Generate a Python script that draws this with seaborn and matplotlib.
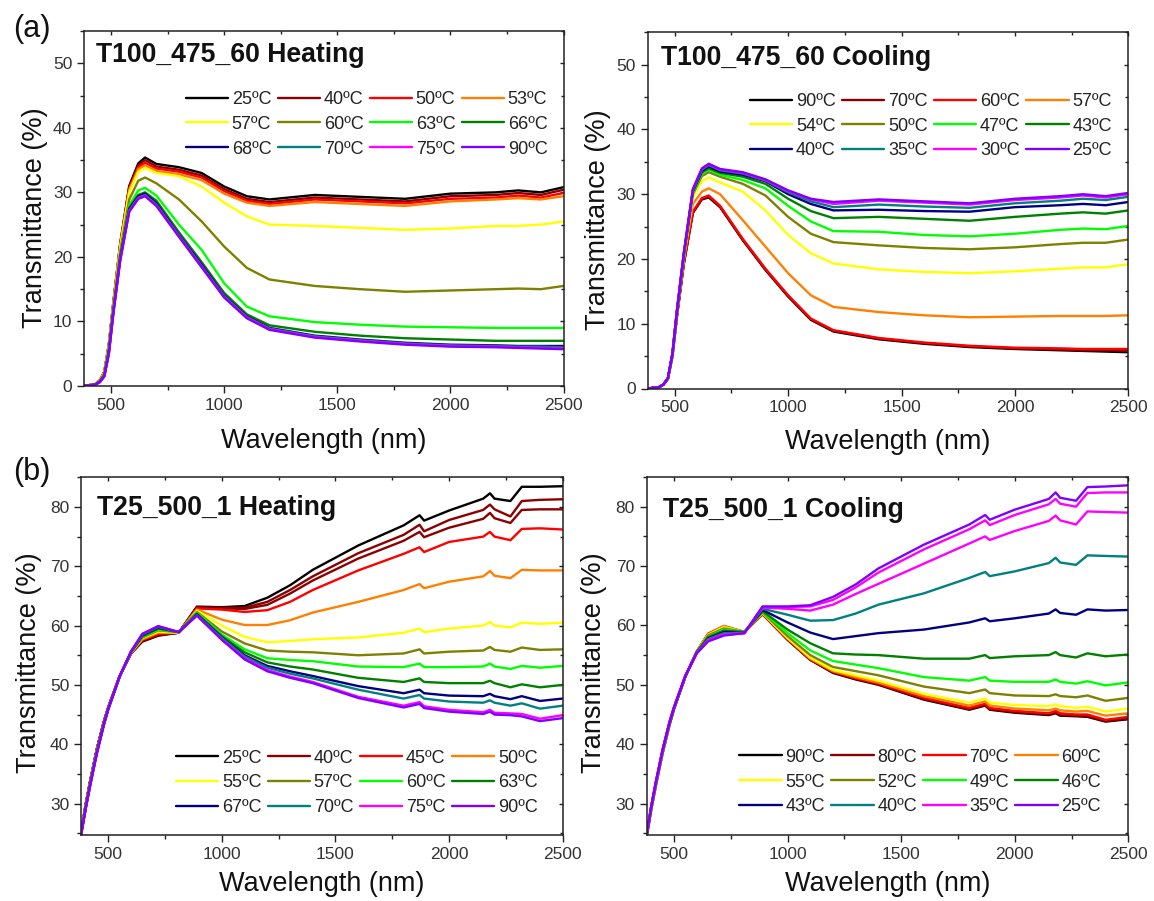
import matplotlib
matplotlib.use("Agg")
import matplotlib.pyplot as plt
from matplotlib.ticker import MultipleLocator
import seaborn as sns

# ---------------- data ----------------
WL_A = [380, 430, 450, 470, 490, 510, 540, 580, 620, 650, 700, 800, 900, 1000, 1100, 1200,
        1400, 1600, 1800, 2000, 2200, 2300, 2400, 2500]
WL_B = [380, 400, 420, 450, 480, 500, 550, 600, 650, 720, 810, 890, 1000, 1100, 1200, 1300,
        1400, 1600, 1800, 1870, 1890, 2000, 2150, 2180, 2200, 2270, 2320, 2400, 2500]

COLORS = ["#000000", "#8B0000", "#FF0000", "#FF8000", "#FFFF00", "#808000",
          "#00FF00", "#008000", "#000080", "#008080", "#FF00FF", "#8000FF"]

# (a) T100_475_60 heating
A_HEAT_LABELS = ["25ºC", "40ºC", "50ºC", "53ºC", "57ºC", "60ºC", "63ºC", "66ºC", "68ºC", "70ºC", "75ºC", "90ºC"]
a_h25 = [0.0, 0.3, 0.9, 2.2, 6.5, 13.0, 22.0, 31.0, 34.5, 35.4, 34.4, 33.9, 33.0, 30.9, 29.4, 28.9, 29.6, 29.3, 29.0, 29.8, 30.0, 30.3, 30.0, 30.8]
a_h40 = [0.0, 0.3, 0.9, 2.2, 6.5, 13.0, 22.0, 30.8, 34.2, 35.0, 34.0, 33.5, 32.6, 30.5, 29.0, 28.5, 29.2, 28.9, 28.6, 29.4, 29.6, 29.9, 29.6, 30.4]
a_h50 = [0.0, 0.3, 0.9, 2.2, 6.4, 12.9, 21.9, 30.6, 33.9, 34.6, 33.7, 33.2, 32.3, 30.2, 28.7, 28.2, 28.9, 28.6, 28.3, 29.0, 29.2, 29.5, 29.2, 29.9]
a_h53 = [0.0, 0.3, 0.9, 2.2, 6.4, 12.9, 21.8, 30.4, 33.6, 34.2, 33.3, 32.8, 31.9, 29.8, 28.4, 27.9, 28.5, 28.2, 27.9, 28.6, 28.9, 29.1, 28.9, 29.4]
a_h57 = [0.0, 0.3, 0.9, 2.1, 6.3, 12.7, 21.5, 30.0, 33.2, 33.8, 33.0, 32.5, 30.9, 28.4, 26.3, 25.0, 24.8, 24.5, 24.2, 24.4, 24.8, 24.8, 25.0, 25.5]
a_h60 = [0.0, 0.3, 0.8, 2.0, 6.0, 12.3, 20.8, 28.9, 31.8, 32.3, 31.4, 28.9, 25.5, 21.6, 18.3, 16.5, 15.5, 15.0, 14.6, 14.8, 15.0, 15.1, 15.0, 15.5]
a_h63 = [0.0, 0.2, 0.7, 1.8, 5.7, 12.0, 20.3, 28.0, 30.3, 30.7, 29.5, 25.0, 21.1, 15.9, 12.3, 10.8, 9.9, 9.5, 9.2, 9.1, 9.0, 9.0, 9.0, 9.0]
a_h66 = [0.0, 0.2, 0.7, 1.7, 5.5, 11.8, 20.0, 27.6, 29.6, 30.0, 28.7, 23.8, 19.2, 14.4, 11.1, 9.4, 8.4, 7.8, 7.4, 7.2, 7.0, 7.0, 7.0, 7.0]
a_h68 = [0.0, 0.2, 0.7, 1.6, 5.3, 11.6, 19.8, 27.4, 29.4, 29.8, 28.3, 23.4, 18.8, 14.0, 10.8, 9.0, 7.8, 7.2, 6.7, 6.4, 6.3, 6.2, 6.2, 6.2]
a_h70 = [0.0, 0.2, 0.6, 1.6, 5.2, 11.5, 19.6, 27.2, 29.2, 29.6, 28.1, 23.3, 18.6, 13.9, 10.7, 8.9, 7.7, 7.1, 6.6, 6.3, 6.2, 6.1, 6.1, 6.0]
a_h75 = [0.0, 0.2, 0.6, 1.5, 5.1, 11.4, 19.5, 27.1, 29.1, 29.5, 28.0, 23.2, 18.5, 13.8, 10.6, 8.8, 7.6, 7.0, 6.5, 6.2, 6.1, 6.0, 5.9, 5.8]
a_h90 = [0.0, 0.2, 0.6, 1.5, 5.0, 11.3, 19.4, 27.0, 29.0, 29.4, 27.9, 23.1, 18.4, 13.7, 10.5, 8.7, 7.5, 6.9, 6.4, 6.1, 6.0, 5.9, 5.8, 5.7]

# (a) T100_475_60 cooling
A_COOL_LABELS = ["90ºC", "70ºC", "60ºC", "57ºC", "54ºC", "50ºC", "47ºC", "43ºC", "40ºC", "35ºC", "30ºC", "25ºC"]
a_c90 = [0.0, 0.2, 0.6, 1.5, 5.0, 11.2, 19.2, 27.1, 29.2, 29.5, 28.0, 22.9, 18.3, 14.2, 10.6, 8.8, 7.6, 6.9, 6.4, 6.1, 5.9, 5.8, 5.7, 5.6]
a_c70 = [0.0, 0.2, 0.6, 1.5, 5.0, 11.2, 19.3, 27.2, 29.3, 29.6, 28.1, 23.0, 18.4, 14.3, 10.7, 8.9, 7.7, 7.0, 6.5, 6.2, 6.0, 5.9, 5.9, 5.8]
a_c60 = [0.0, 0.2, 0.6, 1.5, 5.0, 11.3, 19.4, 27.3, 29.4, 29.8, 28.2, 23.1, 18.5, 14.4, 10.8, 9.0, 7.8, 7.1, 6.6, 6.3, 6.2, 6.1, 6.1, 6.1]
a_c57 = [0.0, 0.2, 0.6, 1.5, 5.1, 11.5, 19.8, 28.5, 30.4, 30.9, 30.0, 26.0, 21.9, 17.8, 14.4, 12.6, 11.8, 11.3, 11.0, 11.1, 11.2, 11.2, 11.2, 11.3]
a_c54 = [0.0, 0.2, 0.6, 1.6, 5.2, 11.7, 20.2, 29.5, 32.0, 32.6, 31.8, 30.4, 27.5, 23.7, 20.9, 19.3, 18.4, 18.0, 17.8, 18.1, 18.5, 18.7, 18.7, 19.2]
a_c50 = [0.0, 0.2, 0.6, 1.6, 5.3, 11.8, 20.4, 30.0, 32.8, 33.4, 32.7, 31.6, 29.8, 26.5, 23.9, 22.6, 22.1, 21.7, 21.5, 21.8, 22.3, 22.5, 22.5, 23.0]
a_c47 = [0.0, 0.2, 0.6, 1.6, 5.3, 11.9, 20.5, 30.2, 33.1, 33.8, 33.0, 32.2, 30.9, 28.2, 25.8, 24.3, 24.2, 23.7, 23.5, 23.9, 24.5, 24.7, 24.6, 25.1]
a_c43 = [0.0, 0.2, 0.6, 1.6, 5.4, 12.0, 20.6, 30.4, 33.4, 34.0, 33.3, 32.7, 31.6, 29.3, 27.4, 26.3, 26.5, 26.2, 25.9, 26.5, 27.0, 27.2, 27.0, 27.5]
a_c40 = [0.0, 0.2, 0.6, 1.6, 5.4, 12.0, 20.7, 30.5, 33.6, 34.3, 33.5, 33.0, 32.0, 30.0, 28.5, 27.5, 27.6, 27.4, 27.3, 28.0, 28.3, 28.5, 28.3, 28.8]
a_c35 = [0.0, 0.2, 0.6, 1.6, 5.4, 12.1, 20.8, 30.6, 33.8, 34.5, 33.7, 33.2, 32.1, 30.3, 28.9, 28.0, 28.4, 28.1, 27.9, 28.6, 29.0, 29.3, 29.1, 29.6]
a_c30 = [0.0, 0.2, 0.6, 1.6, 5.4, 12.1, 20.8, 30.7, 33.9, 34.6, 33.8, 33.3, 32.2, 30.5, 29.2, 28.5, 29.0, 28.7, 28.4, 29.1, 29.5, 29.8, 29.5, 30.0]
a_c25 = [0.0, 0.2, 0.6, 1.6, 5.4, 12.1, 20.9, 30.8, 34.0, 34.7, 33.9, 33.4, 32.3, 30.6, 29.3, 28.8, 29.2, 28.9, 28.6, 29.3, 29.7, 30.0, 29.7, 30.2]

# (b) T25_500_1 heating (one extra unlabelled dark-red curve)
B_HEAT_LABELS = ["25ºC", "40ºC", "45ºC", "50ºC", "55ºC", "57ºC", "60ºC", "63ºC", "67ºC", "70ºC", "75ºC", "90ºC"]
b_h25 = [25.0, 29.8, 33.8, 39.3, 43.8, 46.3, 51.5, 55.3, 57.3, 58.3, 58.8, 63.2,
         63.1, 63.3, 64.7, 66.8, 69.4, 73.5, 76.9, 78.6, 77.7, 79.4, 81.4, 82.3, 81.4, 81.0, 83.4, 83.4, 83.5]
b_h40 = [25.0, 29.7, 33.7, 39.2, 43.7, 46.2, 51.5, 55.3, 57.4, 58.4, 58.8, 63.1,
         63.0, 63.0, 64.0, 66.0, 68.3, 72.2, 75.3, 77.0, 75.9, 77.8, 79.5, 80.4, 79.6, 78.4, 81.0, 81.2, 81.3]
b_hx = [25.0, 29.7, 33.7, 39.2, 43.7, 46.2, 51.5, 55.3, 57.5, 58.5, 58.8, 63.0,
        62.9, 62.8, 63.5, 65.4, 67.6, 71.3, 74.3, 75.8, 74.9, 76.5, 78.0, 79.0, 78.1, 77.3, 79.5, 79.6, 79.6]
b_h45 = [24.9, 29.6, 33.6, 39.1, 43.6, 46.2, 51.5, 55.4, 57.6, 58.6, 58.8, 62.9,
         62.7, 62.3, 62.6, 64.0, 66.0, 69.3, 72.1, 73.2, 72.4, 74.1, 75.0, 75.8, 75.0, 74.4, 76.3, 76.4, 76.2]
b_h50 = [24.9, 29.5, 33.5, 39.0, 43.5, 46.1, 51.5, 55.4, 57.7, 58.8, 58.8, 62.7,
         61.0, 60.1, 60.1, 60.9, 62.2, 64.0, 66.0, 67.0, 66.3, 67.4, 68.3, 69.2, 68.4, 68.0, 69.4, 69.3, 69.3]
b_h55 = [24.9, 29.4, 33.4, 38.9, 43.4, 46.1, 51.4, 55.4, 57.9, 59.0, 58.8, 62.5,
         60.0, 58.1, 57.2, 57.4, 57.7, 58.0, 58.8, 59.5, 58.9, 59.5, 60.0, 60.6, 60.0, 59.7, 60.5, 60.3, 60.5]
b_h57 = [24.8, 29.3, 33.3, 38.8, 43.4, 46.0, 51.4, 55.5, 58.0, 59.2, 58.9, 62.3,
         59.0, 57.0, 55.8, 55.6, 55.5, 55.0, 55.3, 56.0, 55.3, 55.6, 55.8, 56.4, 55.9, 55.6, 56.3, 55.9, 56.0]
b_h60 = [24.8, 29.3, 33.3, 38.8, 43.3, 46.0, 51.4, 55.5, 58.1, 59.3, 58.9, 62.2,
         58.5, 56.0, 54.5, 54.2, 54.0, 53.1, 53.0, 53.6, 53.0, 53.0, 53.1, 53.6, 53.1, 52.7, 53.2, 52.9, 53.2]
b_h63 = [24.7, 29.2, 33.2, 38.7, 43.3, 46.0, 51.4, 55.5, 58.2, 59.5, 58.9, 62.0,
         58.2, 55.5, 53.8, 53.1, 52.6, 51.2, 50.5, 51.1, 50.5, 50.3, 50.3, 50.7, 50.3, 49.6, 50.1, 49.6, 50.0]
b_h67 = [24.7, 29.1, 33.1, 38.6, 43.3, 46.0, 51.4, 55.6, 58.4, 59.7, 58.9, 61.9,
         58.0, 55.0, 53.2, 52.3, 51.5, 49.8, 48.6, 49.2, 48.6, 48.2, 48.1, 48.5, 48.1, 47.6, 48.1, 47.3, 47.7]
b_h70 = [24.6, 29.1, 33.1, 38.6, 43.2, 45.9, 51.4, 55.6, 58.5, 59.8, 58.9, 61.8,
         57.9, 54.8, 52.9, 51.9, 51.1, 49.2, 47.7, 48.3, 47.7, 47.2, 47.0, 47.4, 47.0, 46.5, 46.9, 46.0, 46.5]
b_h75 = [24.6, 29.0, 33.0, 38.5, 43.2, 45.9, 51.4, 55.6, 58.6, 59.9, 58.9, 61.7,
         57.7, 54.5, 52.5, 51.4, 50.5, 48.0, 46.5, 47.1, 46.4, 45.8, 45.4, 45.8, 45.3, 45.2, 45.1, 44.3, 44.9]
b_h90 = [24.6, 29.0, 33.0, 38.5, 43.2, 45.9, 51.4, 55.6, 58.6, 59.9, 58.9, 61.7,
         57.6, 54.3, 52.3, 51.2, 50.3, 47.8, 46.2, 46.8, 46.1, 45.5, 45.1, 45.5, 45.0, 44.9, 44.7, 43.9, 44.4]

# (b) T25_500_1 cooling (one extra unlabelled magenta curve)
B_COOL_LABELS = ["90ºC", "80ºC", "70ºC", "60ºC", "55ºC", "52ºC", "49ºC", "46ºC", "43ºC", "40ºC", "35ºC", "25ºC"]
b_c90 = [24.5, 29.0, 33.0, 38.5, 43.2, 45.9, 51.4, 55.6, 58.4, 59.7, 58.9, 61.9,
         57.6, 54.2, 52.0, 50.9, 50.0, 47.5, 45.8, 46.5, 45.8, 45.3, 44.9, 45.2, 44.8, 44.7, 44.6, 43.8, 44.2]
b_c80 = [24.5, 29.0, 33.0, 38.5, 43.2, 45.9, 51.4, 55.6, 58.5, 59.8, 58.9, 61.9,
         57.6, 54.2, 52.1, 51.0, 50.1, 47.6, 45.9, 46.6, 45.9, 45.4, 45.0, 45.3, 44.9, 44.8, 44.7, 43.9, 44.3]
b_c70 = [24.5, 29.0, 33.0, 38.5, 43.2, 45.9, 51.4, 55.6, 58.6, 59.9, 58.9, 62.0,
         57.7, 54.3, 52.2, 51.1, 50.2, 47.8, 46.1, 46.8, 46.1, 45.6, 45.2, 45.6, 45.2, 45.0, 45.0, 44.1, 44.6]
b_c60 = [24.5, 29.1, 33.1, 38.6, 43.2, 45.9, 51.4, 55.6, 58.5, 59.9, 58.9, 62.0,
         57.8, 54.4, 52.3, 51.3, 50.4, 48.1, 46.5, 47.2, 46.5, 46.0, 45.7, 46.0, 45.7, 45.5, 45.6, 44.8, 45.2]
b_c55 = [24.6, 29.1, 33.1, 38.6, 43.3, 46.0, 51.4, 55.6, 58.4, 59.7, 58.9, 62.1,
         57.9, 54.6, 52.5, 51.6, 50.7, 48.5, 47.0, 47.7, 47.0, 46.6, 46.4, 46.7, 46.4, 46.1, 46.3, 45.5, 46.0]
b_c52 = [24.6, 29.2, 33.2, 38.7, 43.3, 46.0, 51.4, 55.5, 58.3, 59.5, 58.9, 62.2,
         58.2, 55.0, 53.0, 52.3, 51.6, 49.7, 48.6, 49.2, 48.6, 48.2, 48.1, 48.4, 48.1, 47.9, 48.2, 47.3, 47.8]
b_c49 = [24.6, 29.3, 33.3, 38.8, 43.4, 46.0, 51.4, 55.5, 58.1, 59.3, 58.9, 62.3,
         58.7, 55.8, 54.0, 53.4, 52.8, 51.3, 50.7, 51.3, 50.7, 50.5, 50.5, 50.9, 50.5, 50.2, 50.6, 49.9, 50.4]
b_c46 = [24.7, 29.3, 33.3, 38.8, 43.4, 46.0, 51.4, 55.5, 58.0, 59.1, 58.9, 62.4,
         59.3, 57.0, 55.3, 55.1, 55.0, 54.4, 54.4, 55.0, 54.5, 54.8, 55.0, 55.5, 55.0, 54.6, 55.3, 54.8, 55.1]
b_c43 = [24.7, 29.4, 33.4, 38.9, 43.5, 46.1, 51.4, 55.4, 57.8, 58.9, 58.8, 62.6,
         60.5, 58.8, 57.7, 58.2, 58.7, 59.3, 60.5, 61.2, 60.7, 61.2, 62.0, 62.7, 62.1, 61.8, 62.7, 62.5, 62.6]
b_c40 = [24.7, 29.5, 33.5, 39.0, 43.6, 46.1, 51.5, 55.4, 57.7, 58.7, 58.8, 62.8,
         61.8, 60.8, 60.9, 62.0, 63.5, 65.4, 68.0, 69.0, 68.3, 69.1, 70.5, 71.4, 70.6, 70.2, 71.8, 71.7, 71.6]
b_c35 = [24.8, 29.5, 33.5, 39.0, 43.6, 46.2, 51.5, 55.3, 57.5, 58.5, 58.7, 63.0,
         62.8, 62.5, 63.5, 65.3, 67.0, 70.4, 73.8, 75.0, 74.4, 75.9, 77.6, 78.5, 77.7, 77.0, 79.2, 79.1, 79.0]
b_cx = [24.8, 29.6, 33.6, 39.1, 43.7, 46.2, 51.5, 55.3, 57.4, 58.4, 58.7, 63.1,
        63.1, 63.2, 64.3, 66.4, 68.9, 72.8, 76.2, 77.7, 76.9, 78.6, 80.4, 81.3, 80.5, 80.0, 82.3, 82.4, 82.4]
b_c25 = [24.8, 29.6, 33.6, 39.1, 43.7, 46.2, 51.5, 55.3, 57.3, 58.3, 58.7, 63.2,
         63.2, 63.4, 64.8, 66.9, 69.6, 73.6, 77.0, 78.6, 77.8, 79.5, 81.3, 82.4, 81.5, 81.0, 83.3, 83.4, 83.6]

TITLES = ["T100_475_60 Heating", "T100_475_60 Cooling", "T25_500_1 Heating", "T25_500_1 Cooling"]

# ---------------- style ----------------
sns.set_theme(style="white")
plt.rcParams["font.family"] = ["Liberation Sans", "DejaVu Sans"]
plt.rcParams["axes.edgecolor"] = "#222222"
plt.rcParams["axes.linewidth"] = 1.1

W, H = 1154, 901
fig = plt.figure(figsize=(W / 100, H / 100), dpi=100)


def box(l, r, t, b):
    return [l / W, 1 - b / H, (r - l) / W, (b - t) / H]


panels = [
    dict(rect=box(84, 563.5, 31, 386), wl=WL_A,
         series=[a_h25, a_h40, a_h50, a_h53, a_h57, a_h60, a_h63, a_h66, a_h68, a_h70, a_h75, a_h90],
         labels=A_HEAT_LABELS, extra=None, ylim=(0, 55), ymaj=10, ymin=5,
         leg=(0.212, 0.831, "upper left"), title=(0.026, 0.932), ylab=(-0.102, 0.475), xlab=-0.155),
    dict(rect=box(647.5, 1128.3, 32.3, 388.5), wl=WL_A,
         series=[a_c90, a_c70, a_c60, a_c57, a_c54, a_c50, a_c47, a_c43, a_c40, a_c35, a_c30, a_c25],
         labels=A_COOL_LABELS, extra=None, ylim=(0, 55), ymaj=10, ymin=5,
         leg=(0.213, 0.830, "upper left"), title=(0.028, 0.927), ylab=(-0.103, 0.475), xlab=-0.150),
    dict(rect=box(81, 562.7, 477.3, 835), wl=WL_B,
         series=[b_h25, b_h40, b_h45, b_h50, b_h55, b_h57, b_h60, b_h63, b_h67, b_h70, b_h75, b_h90],
         labels=B_HEAT_LABELS, extra=(b_hx, "#8B0000", 2), ylim=(24.7, 85), ymaj=10, ymin=5,
         leg=(0.197, 0.053, "lower left"), title=(0.033, 0.913), ylab=(-0.107, 0.482), xlab=-0.136),
    dict(rect=box(646.7, 1128.3, 477, 835), wl=WL_B,
         series=[b_c90, b_c80, b_c70, b_c60, b_c55, b_c52, b_c49, b_c46, b_c43, b_c40, b_c35, b_c25],
         labels=B_COOL_LABELS, extra=(b_cx, "#FF00FF", 11), ylim=(24.7, 85), ymaj=10, ymin=5,
         leg=(0.192, 0.055, "lower left"), title=(0.033, 0.908), ylab=(-0.110, 0.482), xlab=-0.136),
]

for i, p in enumerate(panels):
    ax = fig.add_axes(p["rect"])
    handles = []
    for k, (vals, lab, col) in enumerate(zip(p["series"], p["labels"], COLORS)):
        if p["extra"] is not None and p["extra"][2] == k:
            sns.lineplot(x=p["wl"], y=p["extra"][0], ax=ax, color=p["extra"][1], lw=1.7,
                         label="_extra", legend=False)
        sns.lineplot(x=p["wl"], y=vals, ax=ax, color=col, lw=1.7, label=lab, legend=False)
        handles.append(ax.lines[-1])
    ax.set_xlim(380, 2500)
    ax.set_ylim(*p["ylim"])
    ax.xaxis.set_major_locator(MultipleLocator(500))
    ax.xaxis.set_minor_locator(MultipleLocator(250))
    ax.yaxis.set_major_locator(MultipleLocator(p["ymaj"]))
    ax.yaxis.set_minor_locator(MultipleLocator(p["ymin"]))
    ax.tick_params(which="major", direction="out", length=5, width=1.0, color="#222222",
                   labelsize=12.5, labelcolor="#333333", pad=3.5, bottom=True, left=True)
    ax.tick_params(which="minor", direction="out", length=3, width=1.0, color="#222222",
                   bottom=True, left=True)
    for side in ["top", "right"]:
        sec = ax.secondary_xaxis("top") if side == "top" else ax.secondary_yaxis("right")
        axis = sec.xaxis if side == "top" else sec.yaxis
        axis.set_major_locator(MultipleLocator(500 if side == "top" else p["ymaj"]))
        axis.set_minor_locator(MultipleLocator(250 if side == "top" else p["ymin"]))
        sec.tick_params(which="major", direction="in", length=3, width=1.0, color="#222222",
                        labeltop=False, labelright=False)
        sec.tick_params(which="minor", direction="in", length=2, width=1.0, color="#222222")
        for s in sec.spines.values():
            s.set_visible(False)
    for s in ax.spines.values():
        s.set_visible(True)
        s.set_color("#222222")
        s.set_linewidth(1.1)
    ax.set_xlabel("Wavelength (nm)", fontsize=19.5, color="#111111")
    ax.set_ylabel("Transmittance (%)", fontsize=19.5, color="#111111")
    ax.xaxis.set_label_coords(0.5, p["xlab"])
    ax.yaxis.set_label_coords(*p["ylab"])
    ax.xaxis.label.set_va("center")
    ax.yaxis.label.set_va("center")
    ax.text(p["title"][0], p["title"][1], TITLES[i], transform=ax.transAxes,
            fontsize=19.2, fontweight="bold", ha="left", va="center", color="#111111")
    order = [(k % 3) * 4 + k // 3 for k in range(12)]
    hs = [handles[j] for j in order]
    ls = [p["labels"][j] for j in order]
    leg = ax.legend(hs, ls, ncol=4, loc=p["leg"][2], bbox_to_anchor=(p["leg"][0], p["leg"][1]),
                    frameon=False, fontsize=13, handlelength=2.35, handletextpad=0.2,
                    columnspacing=0.35, labelspacing=0.43, borderpad=0, borderaxespad=0)
    for t in leg.get_texts():
        t.set_color("#222222")

fig.text(32 / W, 1 - 29 / H, "(a)", fontsize=22, ha="center", va="center", color="#111111")
fig.text(31.5 / W, 1 - 472.5 / H, "(b)", fontsize=22, ha="center", va="center", color="#111111")

fig.savefig("out.png", dpi=100, facecolor="white")
